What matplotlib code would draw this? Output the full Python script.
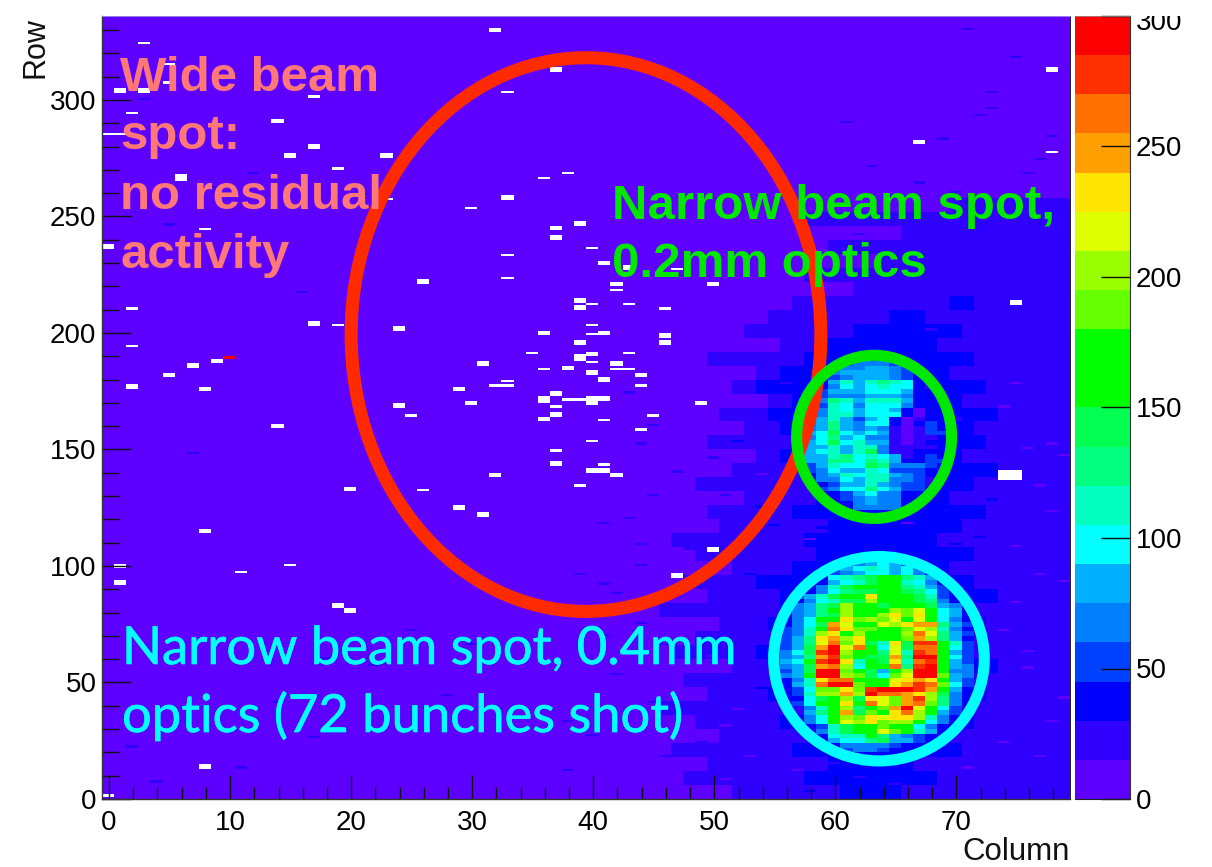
# hit map of the pixel chip, with the beam spots circled by hand
import numpy as np
import matplotlib
matplotlib.use('Agg')
import matplotlib.pyplot as plt
import matplotlib.patheffects as pe
from matplotlib.colors import ListedColormap, BoundaryNorm
from matplotlib.patches import Ellipse
from matplotlib.ticker import MultipleLocator
from matplotlib.transforms import Bbox, Affine2D

plt.rcParams['font.family'] = ['Liberation Sans', 'DejaVu Sans']

W, H = 1212, 867

n_cols = 80
n_rows = 336

levels = list(range(0, 301, 15))
palette = ['#5e00ff', '#3000ff', '#0000ff', '#0040ff', '#0080ff', '#00b0ff', '#00ffff',
           '#00ffc0', '#00ff80', '#00ff50', '#00ff00', '#00ff00', '#66ff00', '#99ff00',
           '#ddff00', '#ffe600', '#ffa000', '#ff7000', '#ff3000', '#ff0000']

# background read off in bands of 6 rows, bottom band first:
# first column that turns blue-violet (80 = none), and the span of columns that is full blue
edge_violet = [52, 48, 50, 47, 51, 49, 46, 50, 48, 52, 47, 49, 51, 46, 50, 48, 52, 49, 47, 51,
               50, 53, 49, 52, 54, 50, 53, 51, 55, 52, 54, 50, 56, 53, 55, 57, 62, 58, 64, 60,
               66, 58, 70, 80, 80, 80, 80, 80, 80, 80, 80, 80, 80, 80, 80, 80]
blue_from = [61, 58, 60, 57, 59, 56, 58, 55, 57, 56, 54, 57, 55, 58, 56, 54, 57, 59, 58, 60,
             57, 59, 61, 58, 56, 58, 56, 55, 57, 54, 56, 58, 60, 62, 65, 70]
blue_to = [66, 69, 67, 71, 69, 72, 70, 73, 71, 74, 72, 70, 73, 71, 74, 72, 70, 72, 69, 71,
           73, 70, 72, 74, 71, 73, 72, 74, 71, 73, 70, 72, 69, 71, 68, 72]

# single bins that stand out from the band they sit in
dash_cols = [3, 5, 9, 12, 16, 21, 7, 14, 2, 18, 25, 11, 4, 17, 28, 22, 34, 30, 38, 41,
             44, 46, 45, 43, 42, 44, 40, 41, 46, 45, 43, 44, 42, 39, 38, 47, 36, 45, 44, 41,
             56, 58, 71, 73, 75, 77, 78, 72, 74, 76, 79, 70, 72, 77, 75, 73, 78, 71, 76, 74,
             62, 64, 66, 68, 60, 70, 72, 74, 65, 67, 63, 69, 61, 73, 59, 77, 75, 78, 76, 79,
             52, 50, 54, 53, 51, 55, 52, 49, 54, 50, 53, 51, 55, 56, 48, 52, 54, 50, 53, 51,
             74, 76, 78, 75, 77, 79, 74, 76, 78, 77, 79, 75, 73, 72, 76, 74, 78, 77, 75, 79,
             65, 69, 71, 58, 60, 62, 67, 70, 72, 57, 74, 56, 58, 71, 73, 69, 66, 62, 59, 64]
dash_rows = [300, 246, 262, 268, 217, 259, 148, 41, 22, 60, 72, 13, 7, 26, 44, 57, 86, 66, 33, 92,
             100, 66, 41, 120, 88, 152, 27, 70, 18, 130, 174, 109, 53, 96, 12, 140, 38, 160, 75, 118,
             206, 224, 231, 244, 215, 252, 238, 196, 207, 222, 186, 260, 293, 274, 318, 303, 284, 330, 268, 256,
             242, 228, 216, 201, 236, 247, 225, 211, 258, 264, 271, 283, 290, 296, 250, 233, 208, 199, 241, 219,
             12, 61, 47, 84, 31, 117, 153, 24, 139, 70, 96, 8, 163, 178, 107, 38, 125, 146, 18, 130,
             168, 150, 123, 108, 134, 93, 72, 56, 33, 18, 43, 84, 128, 112, 63, 24, 152, 96, 178, 147,
             6, 10, 13, 3, 15, 9, 4, 109, 113, 12, 119, 32, 111, 104, 99, 196, 118, 9, 116, 114]
dash_vals = [22, 22, 22, 22, 22, 22, 22, 22, 22, 22, 22, 22, 22, 22, 22, 22, 22, 22, 22, 22,
             22, 22, 22, 22, 22, 22, 22, 22, 22, 22, 22, 22, 22, 22, 22, 22, 22, 22, 22, 22,
             22, 22, 22, 22, 22, 22, 22, 22, 22, 22, 22, 22, 22, 22, 22, 22, 22, 22, 22, 22,
             22, 22, 22, 22, 22, 22, 22, 22, 22, 22, 22, 22, 22, 22, 22, 22, 22, 22, 22, 22,
             22, 10, 35, 22, 10, 35, 35, 22, 10, 22, 35, 10, 35, 22, 22, 10, 35, 22, 10, 22,
             10, 10, 10, 10, 10, 10, 10, 10, 10, 10, 10, 10, 35, 35, 10, 10, 10, 10, 10, 10,
             22, 22, 10, 35, 22, 35, 22, 35, 22, 10, 22, 35, 10, 35, 22, 22, 10, 22, 35, 35]

# lower spot (0.4mm optics): blocks of 4 rows starting at spot_a_rows, columns 55..72
spot_a_first_col = 55
spot_a_rows = [100, 96, 92, 88, 84, 80, 76, 72, 68, 64, 60, 56, 52, 48, 44, 40, 36, 32, 28, 24, 20, 16]
spot_a = [
    [0, 0, 0, 0, 0, 0, 45, 60, 75, 90, 75, 45, 0, 0, 0, 0, 0, 0],
    [0, 0, 0, 0, 0, 50, 75, 90, 105, 100, 90, 100, 70, 45, 0, 0, 0, 0],
    [0, 0, 0, 0, 40, 85, 105, 120, 140, 155, 150, 115, 100, 70, 40, 0, 0, 0],
    [0, 0, 0, 35, 70, 105, 135, 150, 155, 165, 165, 135, 125, 95, 50, 0, 0, 0],
    [0, 0, 45, 80, 105, 125, 155, 160, 215, 165, 170, 160, 145, 120, 60, 40, 0, 0],
    [0, 30, 60, 80, 120, 145, 195, 165, 170, 155, 185, 170, 195, 150, 90, 70, 30, 0],
    [0, 30, 65, 95, 140, 150, 210, 170, 190, 190, 225, 180, 220, 170, 100, 75, 35, 0],
    [0, 45, 70, 105, 150, 250, 215, 175, 180, 195, 190, 215, 235, 225, 120, 80, 45, 0],
    [0, 50, 75, 120, 225, 250, 195, 230, 170, 170, 175, 205, 260, 220, 130, 85, 45, 0],
    [0, 50, 80, 130, 220, 275, 190, 240, 150, 100, 210, 130, 250, 250, 150, 95, 50, 0],
    [30, 70, 90, 140, 270, 290, 200, 170, 150, 140, 230, 115, 290, 275, 160, 90, 55, 0],
    [40, 70, 85, 150, 250, 280, 215, 105, 165, 150, 260, 120, 280, 295, 170, 85, 60, 0],
    [0, 55, 80, 140, 285, 285, 190, 170, 135, 90, 175, 200, 295, 295, 170, 75, 65, 0],
    [0, 40, 80, 115, 250, 290, 290, 180, 170, 160, 230, 240, 265, 255, 175, 90, 50, 0],
    [0, 0, 50, 100, 190, 195, 235, 195, 280, 290, 285, 270, 255, 225, 160, 80, 40, 0],
    [0, 0, 45, 100, 165, 170, 230, 160, 250, 220, 190, 250, 270, 195, 125, 65, 40, 0],
    [0, 0, 0, 70, 115, 160, 215, 130, 170, 170, 225, 260, 200, 160, 85, 45, 0, 0],
    [0, 0, 0, 60, 95, 150, 200, 190, 225, 210, 225, 220, 190, 105, 70, 0, 0, 0],
    [0, 0, 0, 0, 65, 120, 150, 170, 175, 195, 170, 155, 105, 70, 40, 0, 0, 0],
    [0, 0, 0, 0, 0, 85, 100, 100, 140, 135, 80, 75, 55, 35, 0, 0, 0, 0],
    [0, 0, 0, 0, 0, 0, 60, 70, 65, 60, 45, 35, 0, 0, 0, 0, 0, 0],
    [0, 0, 0, 0, 0, 0, 0, 35, 35, 0, 0, 0, 0, 0, 0, 0, 0, 0],
]
# streaks of that spot in percent per pair of rows, from row 16 up, for columns left and right of 64
spot_a_streak_l = [100, 108, 94, 104, 96, 110, 98, 92, 106, 100, 112, 94, 102, 90, 106, 98, 104, 92, 110, 100,
                   96, 108, 94, 102, 112, 96, 100, 90, 106, 98, 110, 94, 104, 100, 92, 108, 96, 104, 98, 106,
                   92, 110, 100, 96, 104, 94]
spot_a_streak_r = [96, 104, 92, 110, 100, 94, 108, 98, 90, 106, 102, 112, 96, 100, 92, 108, 104, 94, 110, 98,
                   100, 92, 106, 96, 104, 112, 94, 100, 90, 108, 98, 104, 110, 92, 100, 96, 106, 94, 102, 110,
                   98, 92, 104, 100, 96, 108]

# upper spot (0.2mm optics), same blocks, columns 58..70
spot_b_first_col = 58
spot_b_rows = [184, 180, 176, 172, 168, 164, 160, 156, 152, 148, 144, 140, 136, 132, 128, 124]
spot_b = [
    [0, 0, 45, 60, 70, 75, 75, 60, 50, 40, 0, 0, 0],
    [0, 0, 60, 75, 85, 80, 85, 70, 55, 35, 0, 0, 0],
    [0, 40, 70, 100, 80, 100, 115, 105, 95, 35, 30, 0, 0],
    [0, 55, 80, 80, 80, 95, 90, 95, 80, 35, 35, 30, 0],
    [0, 60, 110, 100, 70, 100, 105, 105, 75, 35, 35, 35, 0],
    [0, 60, 105, 100, 75, 90, 90, 85, 30, 12, 35, 40, 0],
    [60, 85, 125, 85, 60, 90, 100, 40, 12, 30, 45, 40, 30],
    [70, 85, 130, 85, 70, 85, 70, 25, 12, 25, 50, 45, 40],
    [75, 95, 135, 90, 100, 75, 75, 20, 12, 25, 30, 35, 40],
    [85, 95, 115, 85, 115, 130, 70, 20, 20, 30, 30, 35, 40],
    [80, 85, 120, 125, 100, 120, 105, 80, 30, 40, 55, 45, 0],
    [50, 70, 105, 95, 85, 130, 115, 65, 55, 55, 45, 30, 0],
    [0, 65, 75, 100, 85, 110, 110, 75, 70, 50, 30, 0, 0],
    [0, 45, 60, 90, 85, 120, 90, 80, 50, 50, 30, 0, 0],
    [0, 0, 40, 50, 75, 90, 70, 65, 35, 40, 0, 0, 0],
    [0, 0, 0, 40, 60, 70, 60, 60, 35, 0, 0, 0, 0],
]
spot_b_streak = [100, 108, 94, 104, 112, 92, 98, 106, 90, 110, 100, 96, 104, 92, 108, 98, 112, 94, 102, 90,
                 106, 100, 96, 110, 92, 104, 98, 108, 94, 100, 106, 92]

# empty bins, drawn white: thin ones are one row high, thick ones two
thin_cols = [33, 30, 40, 33, 33, 47, 42, 40, 43, 46, 40, 40, 43, 35, 40, 36, 42, 43, 33, 32,
             33, 44, 38, 39, 37, 25, 41, 45, 44, 40, 37, 41, 39, 26, 3, 5, 5, 17, 2, 0,
             1, 19, 23, 8, 33, 78, 36, 38, 2, 19, 2, 15, 11, 0]
thin_rows = [257, 253, 236, 233, 223, 227, 218, 212, 212, 210, 203, 199, 191, 191, 187, 184, 184, 184, 179, 177,
             177, 177, 171, 171, 168, 164, 162, 164, 158, 153, 149, 143, 134, 132, 324, 315, 307, 301, 294, 285,
             285, 270, 257, 244, 303, 277, 266, 268, 210, 203, 194, 100, 97, 1]
thick_cols = [37, 39, 37, 41, 43, 26, 42, 50, 39, 39, 24, 36, 41, 46, 46, 39, 40, 39, 39, 42,
              31, 38, 40, 44, 41, 29, 37, 36, 36, 41, 40, 40, 30, 49, 24, 37, 36, 37, 40, 41,
              42, 32, 1, 3, 14, 17, 15, 23, 6, 6, 0, 32, 37, 78, 67, 33, 75, 17, 9, 7,
              5, 8, 2, 14, 20, 29, 31, 8, 1, 1, 19, 20, 47, 50, 74, 75, 74, 75, 8]
thick_rows = [245, 247, 241, 230, 228, 222, 221, 221, 214, 211, 202, 200, 200, 199, 196, 196, 191, 189, 190, 187,
              187, 185, 183, 182, 180, 176, 174, 172, 171, 172, 172, 170, 170, 170, 169, 165, 163, 144, 141, 141,
              139, 139, 304, 304, 291, 280, 276, 276, 267, 266, 237, 330, 313, 313, 282, 258, 213, 204, 188, 186,
              182, 176, 177, 160, 133, 125, 122, 115, 93, 100, 83, 81, 96, 107, 138, 138, 140, 140, 14]

# one very hot bin far from the spots
hot_col = 10
hot_row = 189
hot_val = 290

x_ticks = [0, 10, 20, 30, 40, 50, 60, 70]
y_ticks = [0, 50, 100, 150, 200, 250, 300]
z_ticks = [0, 50, 100, 150, 200, 250, 300]

wide_lines = ['Wide beam', 'spot:', 'no residual', 'activity']
wide_base = [91, 149, 209, 268]
narrow2_lines = ['Narrow beam spot,', '0.2mm optics']
narrow2_base = [219, 277]
narrow4_lines = ['Narrow beam spot, 0.4mm', 'optics (72 bunches shot)']
narrow4_base = [664, 732]


def build_counts():
    z = np.full((n_rows, n_cols), 8.0)
    for i, c0 in enumerate(edge_violet):
        z[i * 6:i * 6 + 6, c0:] = 22
    for i, (c0, c1) in enumerate(zip(blue_from, blue_to)):
        z[i * 6:i * 6 + 6, c0:c1] = 36
    for c, r, v in zip(dash_cols, dash_rows, dash_vals):
        z[r, c] = v
    for i, r0 in enumerate(spot_a_rows):
        for j, v in enumerate(spot_a[i]):
            if v > 0:
                c = spot_a_first_col + j
                for r in range(r0, r0 + 4):
                    s = (r - 16) // 2
                    k = spot_a_streak_l[s] if c < 64 else spot_a_streak_r[s]
                    z[r, c] = v * k / 100
    for i, r0 in enumerate(spot_b_rows):
        for j, v in enumerate(spot_b[i]):
            if v > 0:
                for r in range(r0, r0 + 4):
                    z[r, spot_b_first_col + j] = v * spot_b_streak[(r - 124) // 2] / 100
    z[hot_row, hot_col] = hot_val
    for c, r in zip(thin_cols, thin_rows):
        z[r, c] = np.nan
    for c, r in zip(thick_cols, thick_rows):
        z[r - 1:r + 1, c] = np.nan
    return np.ma.masked_invalid(z)


def fx(px):
    return px / W


def fy(py):
    return 1 - py / H


fig = plt.figure(figsize=(W / 100, H / 100), dpi=100)
ax = fig.add_axes([fx(102), fy(799), fx(1069.5 - 102), (799 - 16) / H])
cax = fig.add_axes([fx(1075), fy(799), fx(1130 - 1075), (799 - 16) / H])

cmap = ListedColormap(palette)
cmap.set_bad('white')
norm = BoundaryNorm(levels, cmap.N, clip=True)

x_edges = np.arange(n_cols + 1) - 0.58
y_edges = np.arange(n_rows + 1)
ax.pcolormesh(x_edges, y_edges, build_counts(), cmap=cmap, norm=norm, shading='flat')
ax.set_xlim(-0.58, 79.34)
ax.set_ylim(0, 336)

ax.set_xticks(x_ticks)
ax.set_yticks(y_ticks)
ax.xaxis.set_minor_locator(MultipleLocator(2))
ax.yaxis.set_minor_locator(MultipleLocator(10))
ax.tick_params(axis='x', which='major', direction='in', length=17, width=1.0, labelsize=20, pad=8, color='#111111')
ax.tick_params(axis='x', which='minor', direction='in', length=8.5, width=1.0, color='#111111')
ax.tick_params(axis='y', which='major', direction='in', length=21, width=1.0, labelsize=20, pad=4, color='#111111')
ax.tick_params(axis='y', which='minor', direction='in', length=12, width=1.0, color='#111111')
for name in ['left', 'bottom']:
    ax.spines[name].set_color('#333333')
    ax.spines[name].set_linewidth(1.0)
ax.spines['top'].set_color('#9a80f0')
ax.spines['top'].set_linewidth(0.7)
ax.spines['right'].set_color('#222222')
ax.spines['right'].set_linewidth(0.7)

# colour scale
mids = np.array(levels[:-1]) + 7.5
cax.pcolormesh([0, 1], levels, mids.reshape(-1, 1), cmap=cmap, norm=norm, shading='flat')
cax.set_xlim(0, 1)
cax.set_ylim(0, 300)
cax.set_xticks([])
cax.yaxis.tick_right()
cax.set_yticks(z_ticks)
cax.tick_params(axis='y', direction='in', length=21, width=1.0, labelsize=20, pad=4, color='#111111')
cax.spines['left'].set_visible(False)
cax.spines['top'].set_linewidth(0.5)
cax.spines['top'].set_color('#999999')
cax.spines['right'].set_color('#333333')
cax.spines['bottom'].set_color('#222222')

# the top label of the scale is cut by the pad edge
fig.canvas.draw()
top_label = cax.get_yticklabels()[-1]
top_label.set_transform(top_label.get_transform() + Affine2D().translate(0, -4))
top_label.set_clip_box(Bbox([[0, 0], [W, H - 16]]))
top_label.set_clip_on(True)

# hand drawn rings
ax.add_patch(Ellipse((39.4, 199.3), 38.8, 237.6, fill=False, edgecolor='#ff2a00', linewidth=9.4, zorder=5))
ax.add_patch(Ellipse((63.2, 155.4), 12.8, 70, fill=False, edgecolor='#00e800', linewidth=8, zorder=6))
ax.add_patch(Ellipse((63.6, 60.2), 17.4, 87.7, fill=False, edgecolor='#00ffff', linewidth=8, zorder=6))

for line, b in zip(wide_lines, wide_base):
    fig.text(fx(120), fy(b), line, color='#ff7878', fontsize=35.4, fontweight='bold', va='baseline', zorder=10)
for line, b in zip(narrow2_lines, narrow2_base):
    fig.text(fx(612), fy(b), line, color='#00e800', fontsize=35.5, fontweight='bold', va='baseline', zorder=10)
for line, b in zip(narrow4_lines, narrow4_base):
    fig.text(fx(122), fy(b), line, color='#00ffff', fontsize=37.8, family='Lato', va='baseline', zorder=10,
             path_effects=[pe.withStroke(linewidth=0.5, foreground='#00ffff')])

fig.text(fx(36), fy(17), 'Row', fontsize=22, rotation=90, ha='center', va='top', color='#111111')
fig.text(fx(1070), fy(860), 'Column', fontsize=22.5, ha='right', va='baseline', color='#111111')

fig.savefig('out.png', dpi=100)
